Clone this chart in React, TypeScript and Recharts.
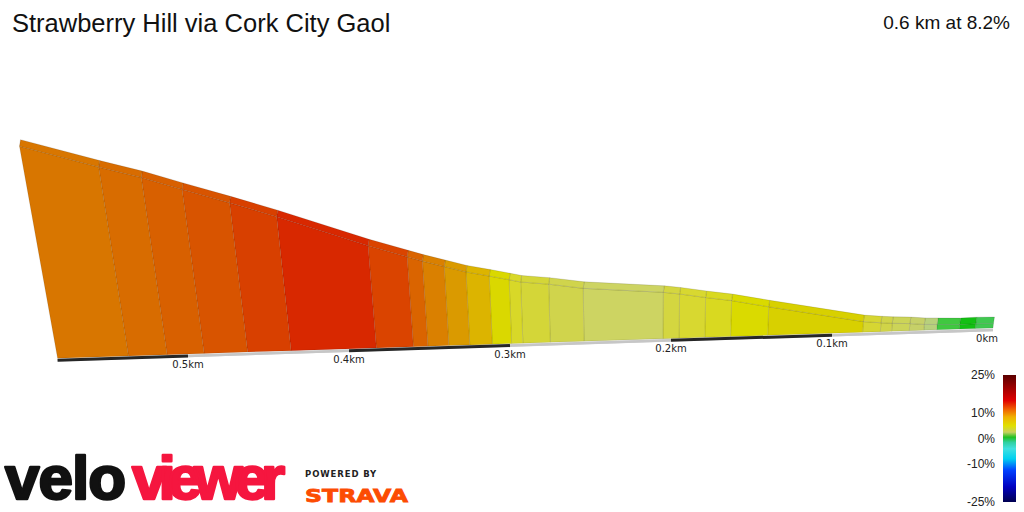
import React from 'react';
import { ComposedChart, Area, Line, Scatter, XAxis, YAxis } from 'recharts';

// ---- data (distance from segment start in km, elevation in m) ----
const DIST_KM = [0, 0.011, 0.021, 0.035, 0.043, 0.052, 0.063, 0.070, 0.081, 0.140, 0.163, 0.179, 0.195, 0.205, 0.254, 0.275, 0.292, 0.299, 0.311, 0.325, 0.338, 0.351, 0.360, 0.383, 0.436, 0.463, 0.490, 0.513, 0.537, 0.581];
const ELEV_M = [18.0, 18.1, 18.0, 18.2, 18.3, 18.6, 18.8, 19.0, 19.4, 23.5, 25.2, 26.1, 27.1, 27.6, 29.1, 30.3, 31.0, 31.6, 32.6, 33.7, 35.1, 36.5, 37.6, 40.4, 47.7, 51.2, 54.6, 57.6, 60.3, 65.6];
const SEG_COLORS = ['#40c850', '#12c012', '#40c840', '#b8d07c', '#c6d068', '#ccd458', '#d0d448', '#d6d632', '#d8d000', '#dada00', '#d9d920', '#d8d830', '#d4d640', '#cdd462', '#d0d44c', '#d4d638', '#d8d828', '#dad800', '#dcb400', '#da9a00', '#da8000', '#da6400', '#da4400', '#d82800', '#d84000', '#d85400', '#d86000', '#d86c00', '#d87600'];
const TICK_KM = [0, 0.1, 0.2, 0.3, 0.4, 0.5];
const TICK_LABELS = ['0km', '0.1km', '0.2km', '0.3km', '0.4km', '0.5km'];
const RULER_DARK = [[0.1, 0.2], [0.3, 0.4], [0.5, 0.581]];
const RULER_LIGHT = [[0, 0.1], [0.2, 0.3], [0.4, 0.5]];
const LEGEND_VALUES = [25, 10, 0, -10, -25];
const LEGEND_LABELS = ['25%', '10%', '0%', '-10%', '-25%'];
const TITLE = 'Strawberry Hill via Cork City Gaol';
const SUBTITLE = '0.6 km at 8.2%';

// ---- view / projection settings ----
const W = 1024;
const H = 512;
const PX_PER_KM = 1610;
const PX_PER_M = 4.36;
const X0_PX = 993;
const Y0_PX = 328;
const BASE_SLOPE_PX = 52;
const E_BASE = 16.97;
const VP_PX = { x: 640, y: 3600 };
const BACK_PX = { x: 1, y: -6.5 };
const RULER_DROP_M = 0.45;

const X_MAX = X0_PX / PX_PER_KM;
const X_MIN = (X0_PX - W) / PX_PER_KM;
const Y_MAX = E_BASE + Y0_PX / PX_PER_M;
const Y_MIN = E_BASE + (Y0_PX - H) / PX_PER_M;
const VX = (X0_PX - VP_PX.x) / PX_PER_KM;
const VY = E_BASE + (Y0_PX - VP_PX.y) / PX_PER_M;

function project(d: number, e: number, back = false) {
  const yb = E_BASE - (BASE_SLOPE_PX * d) / PX_PER_M;
  const yt = yb + (e - E_BASE);
  const ratio = (yt - VY) / (yb - VY);
  let x = VX + (d - VX) * ratio;
  let y = yt;
  if (back) {
    x -= BACK_PX.x / PX_PER_KM;
    y -= BACK_PX.y / PX_PER_M;
  }
  return { x, y };
}

function baseY(d: number) {
  return E_BASE - (BASE_SLOPE_PX * d) / PX_PER_M - RULER_DROP_M;
}

const faces = SEG_COLORS.map((c, i) => {
  const d0 = DIST_KM[i], d1 = DIST_KM[i + 1];
  const e0 = ELEV_M[i], e1 = ELEV_M[i + 1];
  return {
    color: c,
    front: [project(d0, E_BASE), project(d1, E_BASE), project(d1, e1), project(d0, e0), project(d0, E_BASE)],
    top: [project(d0, e0), project(d1, e1), project(d1, e1, true), project(d0, e0, true), project(d0, e0)],
  };
});

const tickPoints = TICK_KM.map((d, i) => ({ x: d, y: baseY(d), label: TICK_LABELS[i] }));

const TickLabel = (props: any) => {
  const { cx, cy, payload } = props;
  const first = payload.x === 0;
  return (
    <text x={cx + (first ? 5 : 0)} y={cy + 12} textAnchor={first ? 'end' : 'middle'} fontFamily="'DejaVu Sans', sans-serif" fontSize={10} fill="#222">
      {payload.label}
    </text>
  );
};

const legendY = (v: number) => 375 + (25 - v) * 2.54;
const LOGO_FONT = "'Liberation Sans', Arial, sans-serif";

export default function App() {
  return (
    <div style={{ position: 'absolute', left: 0, top: 0, width: W, height: H, background: '#fff', overflow: 'hidden' }}>
      <div style={{ position: 'absolute', left: 0, top: 0 }}>
        <ComposedChart width={W} height={H} margin={{ top: 0, right: 0, bottom: 0, left: 0 }}>
          <XAxis type="number" dataKey="x" domain={[X_MIN, X_MAX]} reversed hide allowDataOverflow />
          <YAxis type="number" dataKey="y" domain={[Y_MIN, Y_MAX]} hide allowDataOverflow />
          {faces.map((f, i) => (
            <Area
              key={'f' + i}
              data={f.front}
              dataKey="y"
              type="linear"
              baseValue={Y_MIN}
              fill={f.color}
              fillOpacity={1}
              stroke="rgba(0,0,0,0.1)"
              strokeWidth={1}
              dot={false}
              activeDot={false}
              isAnimationActive={false}
            />
          ))}
          {faces.map((f, i) => (
            <Area
              key={'t' + i}
              data={f.top}
              dataKey="y"
              type="linear"
              baseValue={Y_MIN}
              fill={f.color}
              fillOpacity={1}
              stroke="rgba(0,0,0,0.12)"
              strokeWidth={1}
              dot={false}
              activeDot={false}
              isAnimationActive={false}
            />
          ))}
          <Line
            data={[{ x: 0, y: baseY(0) }, { x: DIST_KM[DIST_KM.length - 1], y: baseY(DIST_KM[DIST_KM.length - 1]) }]}
            dataKey="y"
            type="linear"
            stroke="#cfcfcf"
            strokeWidth={2.5}
            dot={false}
            activeDot={false}
            isAnimationActive={false}
          />
          {RULER_LIGHT.map((r, i) => (
            <Line
              key={'rl' + i}
              data={[{ x: r[0], y: baseY(r[0]) }, { x: r[1], y: baseY(r[1]) }]}
              dataKey="y"
              type="linear"
              stroke="#c6c6c6"
              strokeWidth={2.5}
              dot={false}
              activeDot={false}
              isAnimationActive={false}
            />
          ))}
          {RULER_DARK.map((r, i) => (
            <Line
              key={'rd' + i}
              data={[{ x: r[0], y: baseY(r[0]) }, { x: r[1], y: baseY(r[1]) }]}
              dataKey="y"
              type="linear"
              stroke="#262626"
              strokeWidth={3}
              dot={false}
              activeDot={false}
              isAnimationActive={false}
            />
          ))}
          <Scatter data={tickPoints} dataKey="y" shape={TickLabel} isAnimationActive={false} />
        </ComposedChart>
      </div>
      <svg width={W} height={H} style={{ position: 'absolute', left: 0, top: 0, pointerEvents: 'none' }}>
        <defs>
          <linearGradient id="gradeScale" x1="0" y1="0" x2="0" y2="1">
            <stop offset="0%" stopColor="#5a0000" />
            <stop offset="12%" stopColor="#ab0000" />
            <stop offset="20%" stopColor="#e00000" />
            <stop offset="27%" stopColor="#f06000" />
            <stop offset="33%" stopColor="#f0b000" />
            <stop offset="40%" stopColor="#e0e000" />
            <stop offset="45%" stopColor="#c8d060" />
            <stop offset="49%" stopColor="#20c020" />
            <stop offset="53%" stopColor="#30d0a0" />
            <stop offset="58%" stopColor="#40e0e0" />
            <stop offset="66%" stopColor="#00d0f0" />
            <stop offset="75%" stopColor="#0040ff" />
            <stop offset="88%" stopColor="#0000c0" />
            <stop offset="100%" stopColor="#000050" />
          </linearGradient>
        </defs>
        <text x={12} y={32} fontFamily="'Liberation Sans', Arial, sans-serif" fontSize={25.5} fill="#111">{TITLE}</text>
        <text x={1010} y={28.5} textAnchor="end" fontFamily="'Liberation Sans', Arial, sans-serif" fontSize={19} fill="#111">{SUBTITLE}</text>
        <rect x={1003} y={375} width={13} height={127} fill="url(#gradeScale)" />
        {LEGEND_VALUES.map((v, i) => (
          <text key={i} x={995} y={legendY(v) + 4.2} textAnchor="end" fontFamily="'Liberation Sans', Arial, sans-serif" fontSize={12} fill="#222">
            {LEGEND_LABELS[i]}
          </text>
        ))}
        <text x={5} y={498.5} fontFamily={LOGO_FONT} fontWeight={700} fontSize={62} letterSpacing={-1} fill="#111" stroke="#111" strokeWidth={2.5} strokeLinejoin="round">velo</text>
        <text x={132} y={498.5} fontFamily={LOGO_FONT} fontWeight={700} fontSize={62} letterSpacing={-8} fill="#f5163f" stroke="#f5163f" strokeWidth={2.5} strokeLinejoin="round">viewer</text>
        <text x={305} y={477} fontFamily="'DejaVu Sans', sans-serif" fontWeight={700} fontSize={8.5} letterSpacing={0.9} fill="#222">POWERED BY</text>
        <text x={305} y={502} textLength={103} lengthAdjust="spacingAndGlyphs" fontFamily="'DejaVu Sans', sans-serif" fontWeight={700} fontSize={18} fill="#fc4c02" stroke="#fc4c02" strokeWidth={0.8}>STRAVA</text>
      </svg>
    </div>
  );
}
